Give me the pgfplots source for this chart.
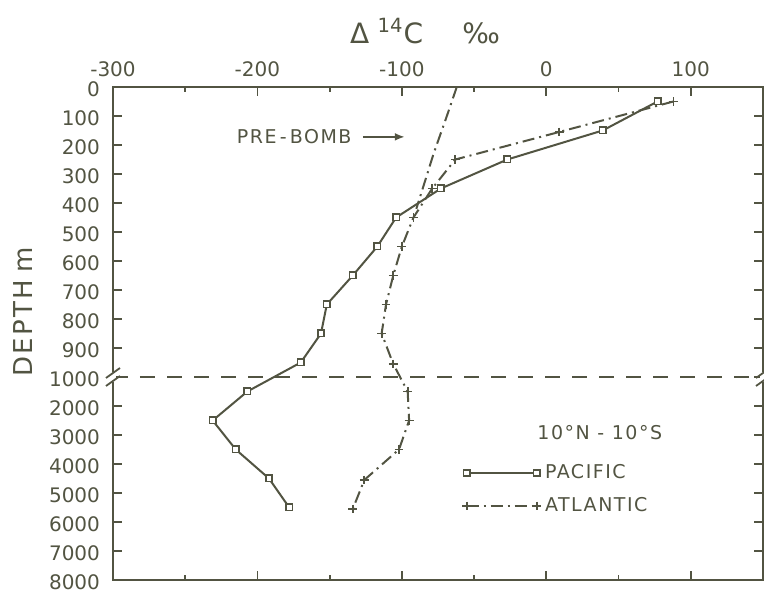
\documentclass[border=0pt]{standalone}
\usepackage{pgfplots}
\pgfplotsset{compat=1.18}
\usepackage{fontspec}
\setmainfont{DejaVu Sans}
\newfontfamily\lettered[LetterSpace=8]{DejaVu Sans}
\usetikzlibrary{arrows.meta}
\definecolor{ink}{RGB}{82,84,66}

\begin{document}
\begin{tikzpicture}
\begin{axis}[
  name=ax,
  scale only axis, width=325pt, height=246.5pt,
  xmin=-300, xmax=150,
  y coord trafo/.code={\pgfmathparse{#1<=1000 ? #1/100 : 10+(#1-1000)/1000}},
  y coord inv trafo/.code={\pgfmathparse{#1<=10 ? #1*100 : 1000+(#1-10)*1000}},
  ymin=0, ymax=8000, y dir=reverse,
  axis line style={ink, line width=1pt},
  every tick/.style={ink, line width=0.9pt},
  tick align=inside,
  major tick length=4.5pt, minor tick length=2.5pt,
  xtick={-300,-200,-100,0,100},
  xticklabels={-300,-200,-100,0,100},
  minor xtick={-250,-150,-50,50},
  xtick pos=both, xticklabel pos=upper,
  ytick={0,100,200,300,400,500,600,700,800,900,1000,2000,3000,4000,5000,6000,7000,8000},
  yticklabels={0,100,200,300,400,500,600,700,800,900,1000,2000,3000,4000,5000,6000,7000,8000},
  ytick pos=both,
  ticklabel style={font=\fontsize{10}{12}\selectfont, text=ink},
  xticklabel style={yshift=1.5pt},
  yticklabel style={xshift=-3pt, yshift=-1pt},
  /pgf/number format/assume math mode=true,
  clip=false,
  title={\fontsize{14}{16}\selectfont Δ\hspace{0.3em}\textsuperscript{14}C\hspace{1.4em}‰},
  title style={at={(0.48,1)}, anchor=center, yshift=22pt, text=ink},
  ylabel={\lettered\fontsize{13}{15}\selectfont DEPTH\hspace{0.3em}m},
  every axis y label/.style={at={(axis description cs:-0.1385,0.544)}, rotate=90, anchor=center, text=ink},
  legend image code/.code={\draw[#1] plot coordinates {(0pt,0pt) (35pt,0pt)};},
  legend style={at={(axis cs:-58.5,4880)}, anchor=west, draw=none, fill=none,
    inner sep=0pt, row sep=4pt, column sep=0pt,
    font=\lettered\fontsize{9.5}{11}\selectfont, text=ink},
  legend cell align=left,
]
% pre-bomb profile
\addplot[ink, line width=1pt, dash pattern=on 6pt off 2.5pt on 1pt off 2.5pt, forget plot]
  coordinates {(-62,0) (-69,102) (-78,229) (-83,309) (-90,420)};
% dashed break line at 1000 m
\addplot[ink, line width=1pt, dash pattern=on 7.5pt off 6pt, forget plot]
  coordinates {(-300,1000) (150,1000)};
% Pacific
\addplot[ink, line width=1pt, mark=square*, mark size=1.6pt,
  mark options={solid, fill=white, line width=0.8pt}]
  coordinates {
  (77,50) (39,150) (-27,250) (-73,350) (-104,450) (-117,550) (-134,650)
  (-152,750) (-156,850) (-170,950) (-207,1500) (-231,2500) (-215,3500)
  (-192,4500) (-178,5500)};
\addlegendentry{PACIFIC}
% Atlantic
\addplot[ink, line width=1pt, dash pattern=on 6pt off 2.5pt on 1pt off 2.5pt,
  mark=+, mark size=2.2pt, mark options={solid, line width=0.9pt}]
  coordinates {
  (88,50) (9,155) (-63,250) (-79,350) (-92,450) (-100,550) (-106,650)
  (-111,750) (-114,850) (-106,955) (-96,1500) (-95,2500) (-102,3500)
  (-126,4550) (-134,5550)};
\addlegendentry{ATLANTIC}
% axis break marks
\fill[white] ([xshift=-1.3pt,yshift=-2.3pt]axis cs:-300,1000) rectangle ([xshift=1.3pt,yshift=2.3pt]axis cs:-300,1000);
\draw[ink, line width=0.9pt] ([xshift=-3.5pt,yshift=-4.5pt]axis cs:-300,1000) -- ([xshift=3.5pt,yshift=0.5pt]axis cs:-300,1000);
\draw[ink, line width=0.9pt] ([xshift=-3.5pt,yshift=-0.5pt]axis cs:-300,1000) -- ([xshift=3.5pt,yshift=4.5pt]axis cs:-300,1000);
\fill[white] ([xshift=-1.3pt,yshift=-2.3pt]axis cs:150,1000) rectangle ([xshift=1.3pt,yshift=2.3pt]axis cs:150,1000);
\draw[ink, line width=0.9pt] ([xshift=-3.5pt,yshift=-4.5pt]axis cs:150,1000) -- ([xshift=3.5pt,yshift=0.5pt]axis cs:150,1000);
\draw[ink, line width=0.9pt] ([xshift=-3.5pt,yshift=-0.5pt]axis cs:150,1000) -- ([xshift=3.5pt,yshift=4.5pt]axis cs:150,1000);
% annotations
\node[anchor=east, text=ink, font=\lettered\fontsize{9.5}{11}\selectfont] at (axis cs:-130,172) {PRE\,-\,BOMB};
\draw[ink, line width=1pt, -{Latex[length=5pt,width=4pt]}] (axis cs:-127,172) -- (axis cs:-98,172);
\node[text=ink, font=\lettered\fontsize{9.5}{11}\selectfont] at (axis cs:37,2900) {10°N - 10°S};
\end{axis}
\pgfresetboundingbox
\path[use as bounding box] ([xshift=-56.5pt,yshift=-6pt]ax.south west) rectangle ([xshift=0.5pt,yshift=43.5pt]ax.north east);
\end{tikzpicture}
\end{document}
